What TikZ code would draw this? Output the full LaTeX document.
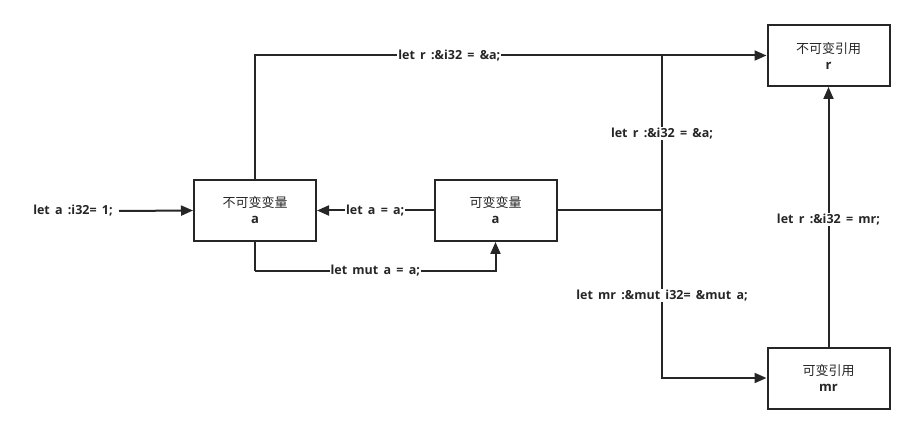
\documentclass[tikz,border=0pt]{standalone}
\usepackage{fontspec}
\setmainfont{Open Sans}
\newfontfamily\cjk{Noto Sans CJK SC}
\newcommand\lblfont{\fontsize{12.5}{15}\selectfont\bfseries\spaceskip=0.42em\relax}
\usetikzlibrary{arrows.meta}
\begin{document}
\begin{tikzpicture}[x=1pt,y=-1pt,
  box/.style={draw=black!85,line width=2pt,minimum width=122pt,minimum height=61pt,align=center,font=\fontsize{13}{16}\selectfont,inner sep=0pt,text=black!85},
  conn/.style={draw=black!85,line width=2pt},
  arr/.style={conn,-{Triangle[length=12pt,width=10pt]}},
  lbl/.style={fill=white,inner sep=1pt,font=\lblfont,text=black!85}]
\useasboundingbox[fill=white] (0,0) rectangle (915,435);
\node[box] (A) at (255,210.5) {{\cjk 不可变变量}\\\textbf{a}};
\node[box] (B) at (495.5,210.5) {{\cjk 可变变量}\\\textbf{a}};
\node[box] (R) at (828.5,55.5) {{\cjk 不可变引用}\\\textbf{r}};
\node[box] (MR) at (828.5,378) {{\cjk 可变引用}\\\textbf{mr}};
\node[lbl,fill=none] (start) at (73,211) {let a :i32= 1;};
\coordinate (s0) at (119,211);
\coordinate (J) at (662,210.5);
\coordinate (Jt) at (662,56);
\coordinate (M) at (255,271);
\draw[arr] (s0) -- (A.west);
\draw[arr] (B.west) -- node[lbl,pos=0.5] {let a = a;} (A.east);
\draw[arr] (A.north) |- node[lbl,pos=0.69] {let r :\&i32 = \&a;} (R.west);
\draw[conn] (A.south) -- (M);
\draw[arr] (M) -| node[lbl,pos=0.25] {let mut a = a;} (B.south);
\draw[conn] (B.east) -- (J);
\draw[conn] (Jt) -- node[lbl,pos=0.5] {let r :\&i32 = \&a;} (J);
\draw[arr] (J) |- node[lbl,pos=0.255] {let mr :\&mut i32= \&mut a;} (MR.west);
\draw[arr] (MR.north) -- node[lbl,pos=0.49] {let r :\&i32 = mr;} (R.south);
\end{tikzpicture}
\end{document}
